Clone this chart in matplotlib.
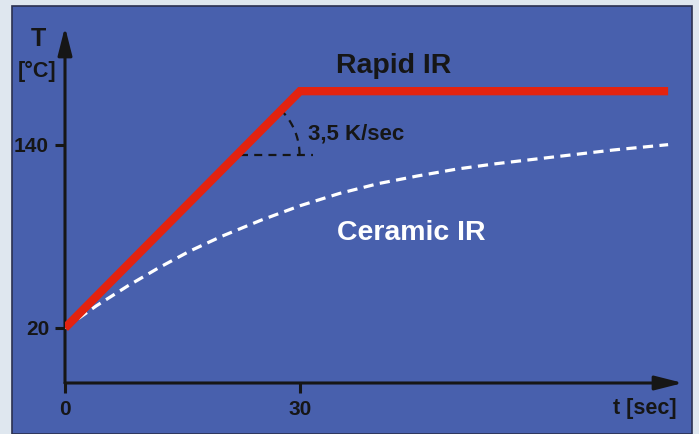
import numpy as np
import matplotlib
matplotlib.use("Agg")
import matplotlib.pyplot as plt
from matplotlib.patches import Rectangle
from matplotlib import font_manager

# ---- data ----
rapid_t = [0, 30, 77]
rapid_T = [20, 175, 175]
ceramic_t = [0, 4, 8, 12, 16, 20, 25, 30, 35, 40, 45, 50, 55, 60, 65, 70, 77]
ceramic_T = [20, 34.5, 47.5, 59.5, 70.5, 80, 90.5, 100, 108, 114.5, 119.5, 124, 127.5, 130.5, 133.5, 136.5, 140]
yticks = [20, 140]
yticklabels = ["20", "140"]
xticks = [0, 30]
xticklabels = ["0", "30"]

W, H = 699, 434
fig = plt.figure(figsize=(W / 100, H / 100), dpi=100)
fig.patch.set_facecolor("#dfe7ef")

names = {f.name for f in font_manager.fontManager.ttflist}
FONT = ["Liberation Sans Narrow", "DejaVu Sans"] if "Liberation Sans Narrow" in names else ["Liberation Sans", "DejaVu Sans"]
plt.rcParams["font.family"] = FONT

# blue panel
panel = Rectangle((12 / W, 0), (692 - 12) / W, (434 - 6) / H, transform=fig.transFigure,
                  facecolor="#4860ad", edgecolor="#2a3050", linewidth=1.2, zorder=-10)
fig.patches.append(panel)

# axes placement (pixel geometry)
x0, x1 = 65, 683
ytop, ybot = 27, 383
ax = fig.add_axes([x0 / W, (H - ybot) / H, (x1 - x0) / W, (ybot - ytop) / H])
ax.set_zorder(5)
ax.patch.set_visible(False)
xmin, xmax = 0, 78.9
ymin, ymax = -16, 217
ax.set_xlim(xmin, xmax)
ax.set_ylim(ymin, ymax)
for s in ax.spines.values():
    s.set_visible(False)

axcol = "#161616"
ax.set_xticks(xticks)
ax.set_xticklabels(xticklabels)
ax.set_yticks(yticks)
ax.set_yticklabels(yticklabels)
ax.tick_params(axis="both", direction="out", length=7.5, width=2.2, color=axcol,
               labelsize=15, labelcolor=axcol)
ax.tick_params(axis="x", pad=5)
ax.tick_params(axis="y", pad=4)
for lab in ax.get_xticklabels() + ax.get_yticklabels():
    lab.set_fontweight("bold")

# axis arrows
ap = dict(arrowstyle="-|>,head_length=1.7,head_width=0.43", mutation_scale=10,
          color=axcol, lw=2.2, shrinkA=0, shrinkB=0)
ax.annotate("", xy=(xmax, ymin), xytext=(xmin, ymin), arrowprops=ap, annotation_clip=False)
ax.annotate("", xy=(xmin, ymax), xytext=(xmin, ymin), arrowprops=ap, annotation_clip=False)

# curves
ax.plot(ceramic_t, ceramic_T, color="white", lw=2.3, dashes=(3.2, 2.0), zorder=3,
        solid_capstyle="butt", dash_capstyle="butt")
ax.plot(rapid_t, rapid_T, color="#e3230f", lw=6, zorder=4, solid_joinstyle="miter",
        solid_capstyle="butt")

# slope annotation
cx, cy = 21.9, 133.4
r_px = 63
px_x = (x1 - x0) / (xmax - xmin)
px_y = (ybot - ytop) / (ymax - ymin)
ang = np.radians(np.linspace(0, 45, 30))
ax.plot(cx + r_px / px_x * np.cos(ang), cy + r_px / px_y * np.sin(ang),
        color=axcol, lw=1.6, dashes=(3.6, 2.8), zorder=2)
ax.plot([22.3, 31.7], [cy, cy], color=axcol, lw=1.6, dashes=(3.6, 2.8), zorder=2)

# texts
ax.text(41.9, 187.2, "Rapid IR", fontsize=20.5, fontweight="bold", color=axcol,
        ha="center", va="baseline")
ax.text(31.0, 143.3, "3,5 K/sec", fontsize=16, fontweight="bold", color=axcol,
        ha="left", va="baseline")
ax.text(34.7, 77.7, "Ceramic IR", fontsize=20.5, fontweight="bold", color="white",
        ha="left", va="baseline")
ax.text(-3.45, 204.3, "T", fontsize=18, fontweight="bold", color=axcol,
        ha="center", va="baseline")
ax.text(-3.6, 184, "[°C]", fontsize=15.5, fontweight="bold", color=axcol,
        ha="center", va="baseline")
ax.text(78.1, -36.4, "t [sec]", fontsize=15.5, fontweight="bold", color=axcol,
        ha="right", va="baseline")

fig.savefig("out.png", dpi=100, facecolor=fig.get_facecolor())
